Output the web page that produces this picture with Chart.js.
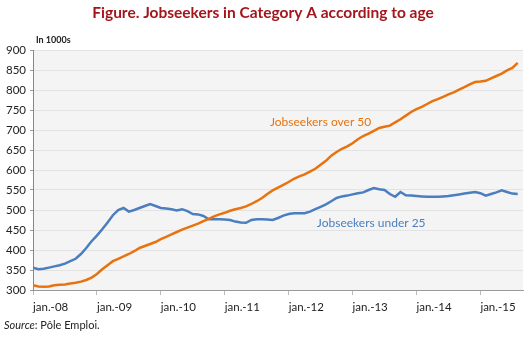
<!DOCTYPE html>
<html>
<head>
<meta charset="utf-8">
<script src="https://cdn.jsdelivr.net/npm/chart.js@4"></script>
<style>
  body { margin: 0; background: #fff; }
  #wrap { width: 530px; height: 337px; position: relative; }
</style>
</head>
<body>
<div id="wrap"><canvas id="jobs"></canvas></div>
<script>
// monthly values, jan. 2008 -> aug. 2015 (thousands)
var over50 = [
	312, 309, 308, 309, 312, 313, 314, 316, 318, 321, 325, 331,
	340, 352, 362, 372, 378, 384, 390, 397, 405, 410, 415, 420,
	427, 433, 439, 445, 451, 456, 461, 466, 472, 478, 484, 489,
	493, 498, 502, 505, 509, 515, 522, 530, 540, 549, 556, 563,
	570, 578, 584, 589, 596, 603, 613, 623, 636, 645, 653, 659,
	667, 677, 685, 691, 698, 705, 708, 711, 719, 727, 736, 745,
	752, 758, 765, 772, 777, 783, 789, 794, 801, 807, 814, 820,
	821, 823, 829, 835, 841, 849, 855, 868
];
var under25 = [
	356, 352, 353, 356, 359, 362, 366, 372, 378, 390, 405, 422,
	436, 452, 469, 487, 500, 505, 496, 500, 505, 510, 515, 510,
	505, 504, 502, 499, 502, 497, 490, 489, 485, 477, 477, 477,
	476, 475, 471, 469, 468, 475, 477, 477, 476, 475, 480, 486,
	490, 492, 492, 492, 496, 502, 508, 514, 522, 530, 534, 536,
	539, 542, 544, 550, 555, 552, 550, 540, 533, 545, 537, 536,
	535, 534, 533, 533, 533, 534, 535, 537, 539, 541, 543, 545,
	542, 536, 540, 544, 549, 545, 541, 540
];
var tickLabels = ['jan.-08', 'jan.-09', 'jan.-10', 'jan.-11', 'jan.-12', 'jan.-13', 'jan.-14', 'jan.-15'];
var seriesNames = ['Jobseekers over 50', 'Jobseekers under 25'];
var seriesColors = ['#e8730e', '#4a7ebf'];

var font = 'Lato';

var decor = {
	id: 'decor',
	beforeDraw: function(chart) {
		var c = chart.ctx, a = chart.chartArea;
		c.save();
		c.fillStyle = '#fff';
		c.fillRect(0, 0, chart.width, chart.height);
		c.fillStyle = '#f4f4f4';
		c.fillRect(a.left, a.top, a.right - a.left, a.bottom - a.top);
		c.restore();
	},
	afterDraw: function(chart) {
		var c = chart.ctx, a = chart.chartArea;
		var xs = chart.scales.x, ys = chart.scales.y;
		c.save();
		c.textBaseline = 'middle';
		// title
		c.fillStyle = '#a3161c';
		c.font = 'bold 15.5px ' + font;
		c.textAlign = 'center';
		c.fillText('Figure. Jobseekers in Category A according to age', 263, 13);
		// unit
		c.fillStyle = '#222';
		c.font = 'bold 9px ' + font;
		c.textAlign = 'left';
		c.fillText('In 1000s', a.left + 3, 40);
		// series labels
		c.font = '12px ' + font;
		c.textAlign = 'center';
		c.fillStyle = seriesColors[0];
		c.fillText(seriesNames[0], xs.getPixelForValue(54), ys.getPixelForValue(720));
		c.fillStyle = seriesColors[1];
		c.fillText(seriesNames[1], xs.getPixelForValue(63.5), ys.getPixelForValue(468));
		// source
		c.fillStyle = '#222';
		c.textAlign = 'left';
		c.font = 'italic 11px ' + font;
		c.fillText('Source', 4, 325);
		var w = c.measureText('Source').width;
		c.font = '11px ' + font;
		c.fillText(': Pôle Emploi.', 4 + w, 325);
		c.restore();
	}
};

function points(arr) {
	return arr.map(function(v, i) { return { x: i, y: v }; });
}

new Chart(document.getElementById('jobs'), {
	type: 'line',
	data: {
		datasets: [{
			label: seriesNames[0],
			data: points(over50),
			borderColor: seriesColors[0],
			borderWidth: 2.5,
			pointRadius: 0,
			tension: 0
		}, {
			label: seriesNames[1],
			data: points(under25),
			borderColor: seriesColors[1],
			borderWidth: 2.5,
			pointRadius: 0,
			tension: 0
		}]
	},
	options: {
		responsive: true,
		maintainAspectRatio: false,
		animation: false,
		layout: { padding: { top: 50, right: 7, bottom: 15, left: 0 } },
		plugins: {
			legend: { display: false },
			title: { display: false },
			tooltip: { enabled: false }
		},
		scales: {
			x: {
				type: 'linear',
				min: 0,
				max: 92,
				afterBuildTicks: function(scale) {
					scale.ticks = tickLabels.map(function(t, i) { return { value: i * 12 }; });
				},
				afterFit: function(scale) { scale.height = 32; },
				grid: { drawOnChartArea: false, drawTicks: true, tickLength: 5, tickColor: '#bbb' },
				border: { display: true, color: '#999', width: 1 },
				ticks: {
					align: 'start',
					padding: 5,
					maxRotation: 0,
					autoSkip: false,
					color: '#222',
					font: { family: font, size: 11.5 },
					callback: function(v) { return tickLabels[v / 12]; }
				}
			},
			y: {
				min: 300,
				max: 900,
				afterFit: function(scale) { scale.width = 33; },
				grid: { color: '#e3e3e3', drawTicks: true, tickLength: 3, tickColor: '#999' },
				border: { display: true, color: '#888', width: 1 },
				ticks: {
					stepSize: 50,
					padding: 4,
					color: '#222',
					font: { family: font, size: 11.5 }
				}
			}
		}
	},
	plugins: [decor]
});
</script>
</body>
</html>
